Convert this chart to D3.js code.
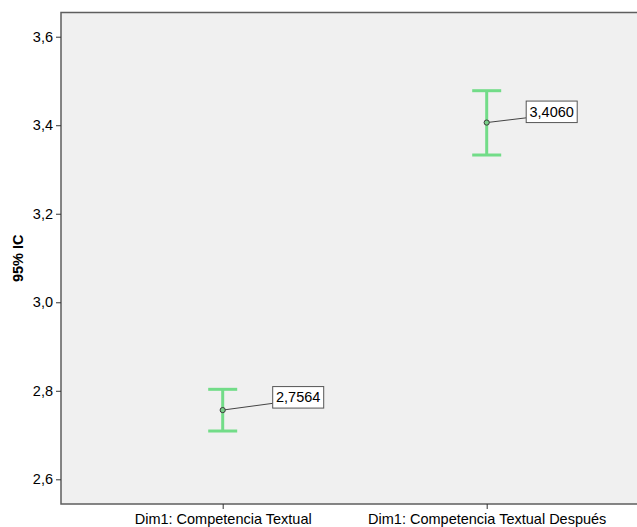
<!DOCTYPE html>
<html><head><meta charset="utf-8">
<script src="https://cdn.jsdelivr.net/npm/d3@7"></script>
<style>body{margin:0;background:#fff}svg{display:block}text{font-family:"Liberation Sans",Arial,sans-serif}</style>
</head><body>
<svg id="c" width="637" height="527"></svg>
<script>
const categories = ["Dim1: Competencia Textual", "Dim1: Competencia Textual Después"];
const means = [2.7564, 3.4060];
const lower = [2.7091, 3.3327];
const upper = [2.8033, 3.4780];
const meanLabels = ["2,7564", "3,4060"];
const yTicks = [2.6, 2.8, 3.0, 3.2, 3.4, 3.6];
const yTitle = "95% IC";

const svg = d3.select("#c");
const L = 61, T = 12.5, R = 648.4, B = 504;
const y = d3.scaleLinear().domain([2.5442, 3.6547]).range([B, T]);
const x = d3.scalePoint().domain(categories).range([L, R]).padding(0.6125);

svg.append("rect").attr("x", L).attr("y", T).attr("width", R - L).attr("height", B - T)
  .attr("fill", "#f0f0f0");
svg.append("path").attr("d", `M${R},${T}H${L}V${B}H${R}`).attr("fill", "none")
  .attr("stroke", "#5e5e5e").attr("stroke-width", 1.5);

const fmt = d => d3.format(".1f")(d).replace(".", ",");
const yAxis = svg.append("g").attr("transform", `translate(${L},0)`)
  .call(d3.axisLeft(y).tickValues(yTicks).tickSize(5).tickPadding(3).tickFormat(fmt));
yAxis.select(".domain").remove();
yAxis.selectAll("line").attr("stroke", "#333");
yAxis.selectAll("text").attr("font-size", 14.5).attr("fill", "#000").attr("font-family", "Liberation Sans, Arial, sans-serif");

const xAxis = svg.append("g").attr("transform", `translate(0,${B})`)
  .call(d3.axisBottom(x).tickSize(5).tickPadding(5));
xAxis.select(".domain").remove();
xAxis.selectAll("line").attr("stroke", "#333");
xAxis.selectAll("text").attr("font-size", 14.5).attr("fill", "#000").attr("font-family", "Liberation Sans, Arial, sans-serif");

svg.append("text").attr("transform", `translate(23,${(T + B) / 2}) rotate(-90)`)
  .attr("text-anchor", "middle").attr("font-size", 14.5).attr("font-weight", "bold")
  .attr("fill", "#000").text(yTitle);

const green = "#72dc88";
const capW = 29;
const offs = [[50, -23.5], [39.5, -21.5]];
categories.forEach((c, i) => {
  const cx = x(c);
  const g = svg.append("g");
  g.append("line").attr("x1", cx).attr("x2", cx).attr("y1", y(upper[i])).attr("y2", y(lower[i]))
    .attr("stroke", green).attr("stroke-width", 3);
  [upper[i], lower[i]].forEach(v => g.append("line").attr("x1", cx - capW / 2).attr("x2", cx + capW / 2)
    .attr("y1", y(v)).attr("y2", y(v)).attr("stroke", green).attr("stroke-width", 3));
  const py = y(means[i]);
  const bx = cx + offs[i][0], by = py + offs[i][1];
  const bw = 51, bh = 21.5;
  g.append("line").attr("x1", cx).attr("y1", py).attr("x2", bx).attr("y2", by + bh * 0.78)
    .attr("stroke", "#444").attr("stroke-width", 1);
  g.append("circle").attr("cx", cx).attr("cy", py).attr("r", 2.6)
    .attr("fill", "#78cf88").attr("stroke", "#3a3a3a").attr("stroke-width", 1);
  g.append("rect").attr("x", bx).attr("y", by).attr("width", bw).attr("height", bh)
    .attr("fill", "#fff").attr("stroke", "#555").attr("stroke-width", 1);
  g.append("text").attr("x", bx + bw / 2).attr("y", by + bh / 2 + 5).attr("text-anchor", "middle")
    .attr("font-size", 14.5).attr("fill", "#000").text(meanLabels[i]);
});
</script>
</body></html>
